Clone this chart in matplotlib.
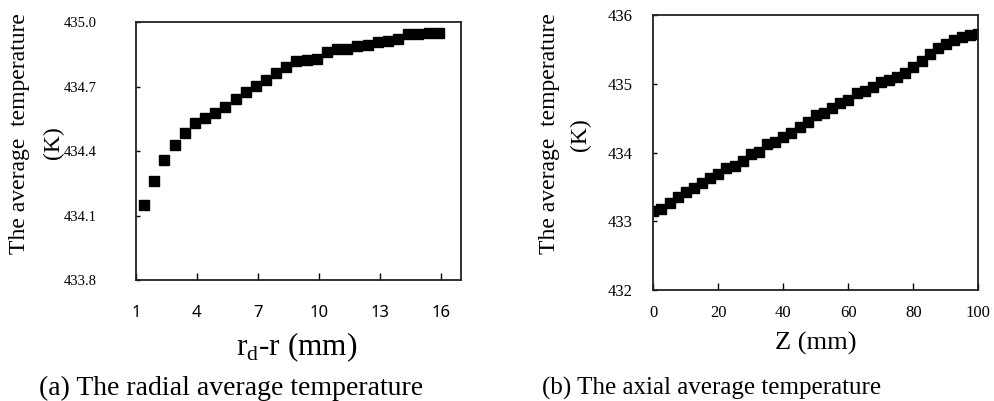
import numpy as np
import matplotlib.pyplot as plt

# radial average temperature (a)
r_pos = [1.4, 1.9, 2.4, 2.9, 3.4, 3.9, 4.4, 4.9, 5.4, 5.9,
         6.4, 6.9, 7.4, 7.9, 8.4, 8.9, 9.4, 9.9, 10.4, 10.9,
         11.4, 11.9, 12.4, 12.9, 13.4, 13.9, 14.4, 14.9, 15.4, 15.9]
t_radial = [434.148, 434.26, 434.36, 434.43, 434.485, 434.53, 434.555, 434.576, 434.607, 434.643,
            434.674, 434.703, 434.732, 434.765, 434.791, 434.818, 434.825, 434.828, 434.861, 434.876,
            434.875, 434.89, 434.892, 434.906, 434.913, 434.923, 434.944, 434.944, 434.951, 434.951]
r_ticks = [1, 4, 7, 10, 13, 16]
t_radial_ticks = [433.8, 434.1, 434.4, 434.7, 435.0]

# axial average temperature (b)
z_pos = [0, 2.5, 5, 7.5, 10, 12.5, 15, 17.5, 20, 22.5, 25, 27.5, 30, 32.5, 35, 37.5, 40,
         42.5, 45, 47.5, 50, 52.5, 55, 57.5, 60, 62.5, 65, 67.5, 70, 72.5, 75, 77.5, 80,
         82.5, 85, 87.5, 90, 92.5, 95, 97.5, 100]
t_axial = [433.154, 433.18, 433.26, 433.35, 433.42, 433.49, 433.55, 433.63, 433.69, 433.78,
           433.80, 433.88, 433.98, 434.01, 434.12, 434.16, 434.23, 434.29, 434.37, 434.45,
           434.55, 434.57, 434.65, 434.72, 434.77, 434.86, 434.89, 434.95, 435.02, 435.06,
           435.10, 435.15, 435.25, 435.33, 435.43, 435.52, 435.58, 435.63, 435.68, 435.71, 435.73]
z_ticks = [0, 20, 40, 60, 80, 100]
t_axial_ticks = [432, 433, 434, 435, 436]

serif = "Liberation Serif"
sans = "Noto Sans"

fig = plt.figure(figsize=(9.94, 4.01), dpi=100)

# ---- panel (a)
ax1 = fig.add_axes([0.1368, 0.3017, 0.327, 0.6434])
ax1.plot(r_pos, t_radial, linestyle="none", marker="s", markersize=7.8, color="black")
ax1.set_xlim(1, 17)
ax1.set_ylim(433.8, 435.0)
ax1.set_xticks(r_ticks)
ax1.set_yticks(t_radial_ticks)
ax1.set_yticklabels([f"{v:.1f}" for v in t_radial_ticks], fontfamily=serif, fontsize=10.5)
ax1.set_xticklabels([str(v) for v in r_ticks], fontfamily=sans, fontsize=12)
ax1.tick_params(axis="y", direction="in", length=3, pad=28, width=1)
ax1.tick_params(axis="x", direction="in", length=5, pad=18, width=1)

# ---- panel (b)
ax2 = fig.add_axes([0.6573, 0.2768, 0.327, 0.6858])
ax2.plot(z_pos, t_axial, linestyle="none", marker="s", markersize=7, color="black")
ax2.set_xlim(0, 100)
ax2.set_ylim(432, 436)
ax2.set_xticks(z_ticks)
ax2.set_yticks(t_axial_ticks)
ax2.set_xticklabels([str(v) for v in z_ticks], fontfamily=serif, fontsize=12)
ax2.set_yticklabels([str(v) for v in t_axial_ticks], fontfamily=serif, fontsize=12)
ax2.tick_params(axis="y", direction="in", length=3, pad=15, width=1)
ax2.tick_params(axis="x", direction="in", length=5, pad=11, width=1)

for ax in (ax1, ax2):
    for sp in ax.spines.values():
        sp.set_linewidth(1.3)
        sp.set_color("#222222")

# axis labels
fig.text(20 / 994, 1 - 134 / 401, "The average  temperature", rotation=90,
         ha="center", va="center", fontfamily=serif, fontsize=17)
fig.text(53 / 994, 1 - 143 / 401, "(K)", rotation=90,
         ha="center", va="center", fontfamily=serif, fontsize=17)
fig.text(550 / 994, 1 - 134 / 401, "The average  temperature", rotation=90,
         ha="center", va="center", fontfamily=serif, fontsize=17)
fig.text(580 / 994, 1 - 135 / 401, "(K)", rotation=90,
         ha="center", va="center", fontfamily=serif, fontsize=17)

fig.text(297 / 994, 1 - 347 / 401, r"r$_\mathregular{d}$-r (mm)",
         ha="center", va="center", fontfamily=serif, fontsize=22.5)
fig.text(816 / 994, 1 - 343 / 401, "Z (mm)",
         ha="center", va="center", fontfamily=serif, fontsize=19)

# captions
fig.text(231 / 994, 1 - 388 / 401, "(a) The radial average temperature",
         ha="center", va="center", fontfamily=serif, fontsize=20)
fig.text(712 / 994, 1 - 388 / 401, "(b) The axial average temperature",
         ha="center", va="center", fontfamily=serif, fontsize=18)

fig.savefig("out.png", dpi=100)
